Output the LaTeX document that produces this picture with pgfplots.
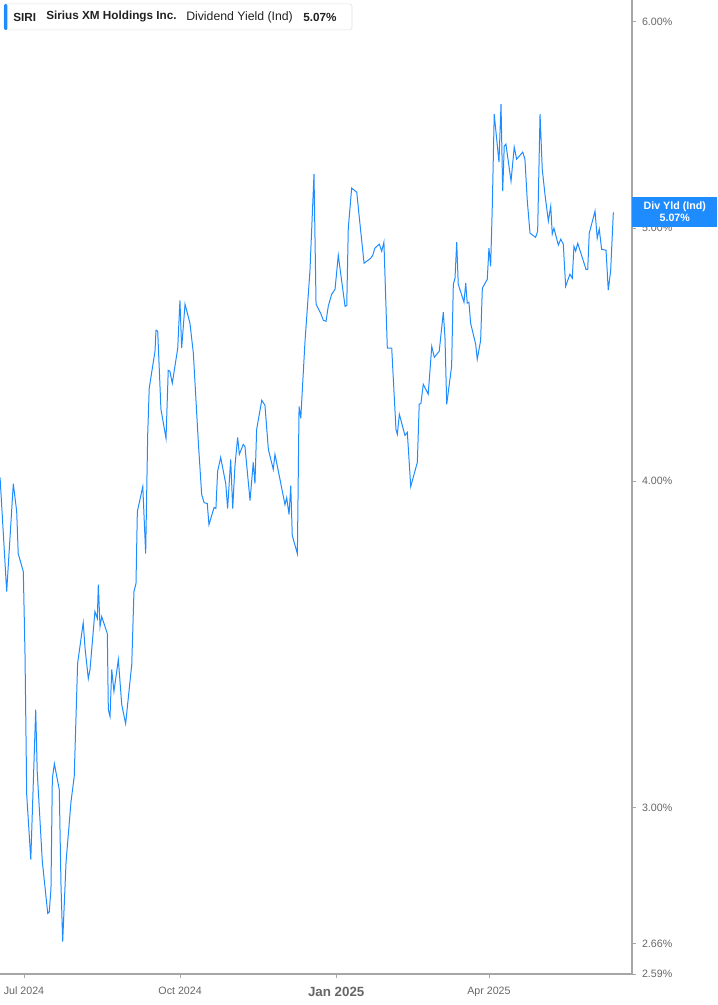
\documentclass[border=0pt]{standalone}
\usepackage{pgfplots}
\pgfplotsset{compat=1.18}
\usepackage{fontspec}
\setmainfont{Liberation Sans}
\definecolor{lineblue}{HTML}{1E8CFF}
\definecolor{ticktxt}{HTML}{666666}
\definecolor{axgray}{HTML}{A6A6A6}
\definecolor{legtxt}{HTML}{222222}

% dividend yield (%), x = days since 1 Jul 2024
\pgfplotstableread{
day yld
-14.1 4.013
-10.2 3.629
-6.3 3.992
-4.3 3.895
-3.4 3.753
-0.4 3.694
0.6 3.433
1.6 3.034
4.0 2.865
6.9 3.270
7.8 3.096
10.8 2.860
14.0 2.732
14.9 2.736
15.9 2.792
16.7 3.077
17.9 3.118
20.8 3.047
21.8 2.802
22.8 2.665
24.8 2.860
27.7 3.015
29.6 3.083
31.6 3.406
34.9 3.531
36.0 3.451
37.9 3.361
38.9 3.388
41.8 3.566
43.2 3.544
43.8 3.652
44.8 3.519
45.8 3.550
49.1 3.497
49.7 3.270
50.7 3.250
51.7 3.388
53.0 3.323
55.6 3.418
57.6 3.285
59.9 3.230
63.5 3.403
64.8 3.629
66.0 3.655
66.8 3.895
70.0 3.982
71.7 3.753
72.9 4.169
73.8 4.342
77.2 4.486
77.8 4.570
78.8 4.566
80.7 4.262
83.7 4.154
85.0 4.411
86.0 4.407
87.4 4.361
90.6 4.498
91.9 4.692
92.9 4.498
94.9 4.676
97.8 4.598
99.8 4.478
102.7 4.143
104.7 3.954
106.1 3.926
108.0 3.922
109.0 3.850
112.0 3.909
113.1 3.905
114.1 4.035
115.9 4.085
118.9 3.992
120.0 3.905
121.8 4.078
123.0 3.905
124.3 4.053
125.9 4.158
126.9 4.096
129.2 4.132
130.2 4.125
133.2 3.933
135.1 4.067
136.1 3.992
137.1 4.187
140.1 4.296
142.0 4.277
144.0 4.114
146.9 4.042
147.9 4.096
149.9 4.035
153.8 3.919
154.8 3.943
156.2 3.885
157.2 3.985
158.1 3.813
161.1 3.753
162.1 4.273
163.1 4.228
165.6 4.525
168.5 4.814
170.9 5.244
172.1 4.676
174.8 4.639
176.4 4.610
178.0 4.606
179.3 4.667
181.3 4.717
183.3 4.738
185.2 4.882
189.2 4.667
190.2 4.671
191.1 5.000
193.1 5.180
196.1 5.161
198.0 5.018
200.4 4.848
204.3 4.869
205.5 4.882
206.8 4.913
209.4 4.930
210.8 4.900
212.1 4.939
214.1 4.498
216.7 4.498
219.2 4.187
220.0 4.169
221.2 4.243
224.5 4.165
225.9 4.176
227.9 3.982
231.8 4.067
232.9 4.281
233.9 4.284
235.3 4.357
238.2 4.319
240.3 4.505
241.8 4.462
244.7 4.486
247.1 4.643
248.1 4.537
249.1 4.281
252.0 4.427
253.0 4.759
254.0 4.784
255.0 4.939
255.9 4.759
259.3 4.684
260.3 4.763
261.2 4.680
262.2 4.684
263.2 4.598
266.2 4.513
267.1 4.454
269.1 4.529
270.1 4.742
273.0 4.780
274.0 4.913
275.0 4.835
276.0 5.107
277.1 5.529
279.9 5.300
281.1 5.578
282.1 5.166
283.0 5.375
284.0 5.385
287.0 5.212
288.9 5.371
290.3 5.314
293.9 5.347
295.2 5.314
296.6 5.121
298.2 4.978
301.5 4.960
302.7 4.987
304.1 5.529
305.4 5.267
307.0 5.152
309.0 5.031
310.4 5.098
311.3 4.974
312.3 5.000
314.9 4.926
316.3 4.952
317.8 4.930
319.2 4.750
321.7 4.801
323.1 4.784
324.1 4.921
325.1 4.900
326.3 4.934
331.2 4.822
332.2 4.822
333.1 4.978
336.5 5.076
337.8 4.956
339.0 4.996
340.4 4.908
343.0 4.904
344.3 4.734
345.7 4.814
347.3 5.070
}\yldtable

\begin{document}
\begin{tikzpicture}
\useasboundingbox (0pt,0pt) rectangle (537.75pt,753.75pt);
\begin{axis}[
  at={(0pt,23.25pt)}, anchor=south west,
  scale only axis, width=474pt, height=730.5pt,
  ymode=log,
  xmin=-14.14, xmax=358.3,
  ymin=2.59, ymax=6.115,
  axis x line*=bottom, axis y line*=right,
  x axis line style={axgray, line width=1.4pt},
  y axis line style={axgray, line width=0.8pt},
  xtick={0,92,184,274},
  xticklabels={Jul 2024,Oct 2024,{\fontsize{10}{12}\selectfont\bfseries Jan 2025},Apr 2025},
  ytick={2.59,2.66,3,4,5,6},
  yticklabels={2.59\%,2.66\%,3.00\%,4.00\%,5.00\%,6.00\%},
  minor ytick={},
  tick align=outside,
  major tick length=3pt,
  tick style={axgray, line width=0.6pt},
  xticklabel style={font=\fontsize{8}{10}\selectfont, text=ticktxt, yshift=-3pt},
  yticklabel style={font=\fontsize{8}{10}\selectfont, text=ticktxt, xshift=1pt},
  clip=false,
]
\addplot[lineblue, line width=0.75pt, no markers] table[x=day, y=yld] {\yldtable};
\end{axis}
% legend box top left
\draw[draw=black!12, fill=white, rounded corners=2pt] (3pt,750.75pt) rectangle (264pt,731.25pt);
\fill[lineblue, rounded corners=1pt] (3pt,750.75pt) rectangle (5.6pt,731.25pt);
\node[anchor=west, inner sep=0, text=legtxt, font=\bfseries\fontsize{8.8}{10}\selectfont] at (9.75pt,741pt) {SIRI};
\node[anchor=west, inner sep=0, text=legtxt, font=\bfseries\fontsize{8.8}{10}\selectfont] at (34.5pt,741pt) {Sirius XM Holdings Inc.};
\node[anchor=west, inner sep=0, text=legtxt, font=\fontsize{9.2}{10}\selectfont] at (139.5pt,741pt) {Dividend Yield (Ind)};
\node[anchor=west, inner sep=0, text=legtxt, font=\bfseries\fontsize{8.8}{10}\selectfont] at (227.25pt,741pt) {5.07\%};
% last-value tag on the right axis
\node[fill=lineblue, text=white, anchor=west, inner sep=0,
      minimum width=63.75pt, minimum height=22.5pt, align=center,
      font=\bfseries\fontsize{8}{9}\selectfont] at (474pt,594.75pt) {Div Yld (Ind)\\5.07\%};
\end{tikzpicture}
\end{document}
